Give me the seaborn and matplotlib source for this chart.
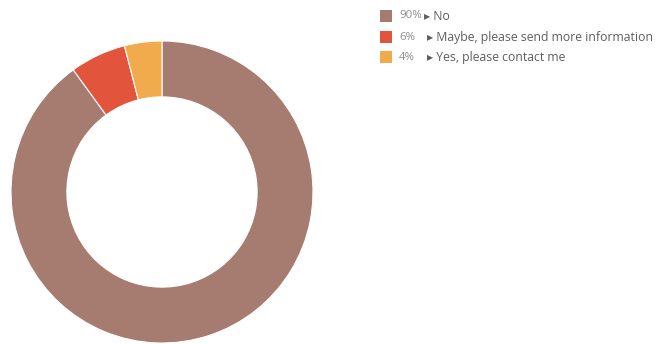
import matplotlib
matplotlib.use('Agg')
import matplotlib.pyplot as plt
from matplotlib.patches import Rectangle
import seaborn as sns

# data
labels = ["No", "Maybe, please send more information", "Yes, please contact me"]
shares = [90, 6, 4]
colors = ["#a77c70", "#e2543b", "#f2ab4c"]

sns.set_theme(style="white")
plt.rcParams['font.family'] = ['Open Sans', 'DejaVu Sans']

W, H = 659, 344
fig = plt.figure(figsize=(W / 100, H / 100), dpi=100)
fig.patch.set_facecolor("white")

# donut: centre (162,192) px, outer radius 151 px
cx, cy, r = 162, 192, 151
ax = fig.add_axes([(cx - r) / W, (H - cy - r) / H, 2 * r / W, 2 * r / H])
ax.pie(shares, colors=colors, startangle=90, counterclock=False,
       wedgeprops=dict(width=0.37, edgecolor="white", linewidth=0.8))
ax.set_aspect("equal")
ax.set_xlim(-1, 1)
ax.set_ylim(-1, 1)
ax.axis("off")

# legend
row_y = [16, 37, 57]
label_x = [424, 427, 427]
for i, (lab, s, c) in enumerate(zip(labels, shares, colors)):
    y = row_y[i]
    fig.patches.append(Rectangle((380 / W, (H - y - 6) / H), 12 / W, 12 / H,
                                 transform=fig.transFigure, facecolor=c,
                                 edgecolor="none"))
    fig.text(399 / W, (H - y) / H, f"{s}%", fontsize=8.2, color="#8c8c8c",
             va="center", ha="left")
    fig.text(label_x[i] / W, (H - y) / H, "\u25b8 " + lab, fontsize=8.8,
             color="#5e5e5e", va="center", ha="left")

fig.savefig("out.png", dpi=100)
